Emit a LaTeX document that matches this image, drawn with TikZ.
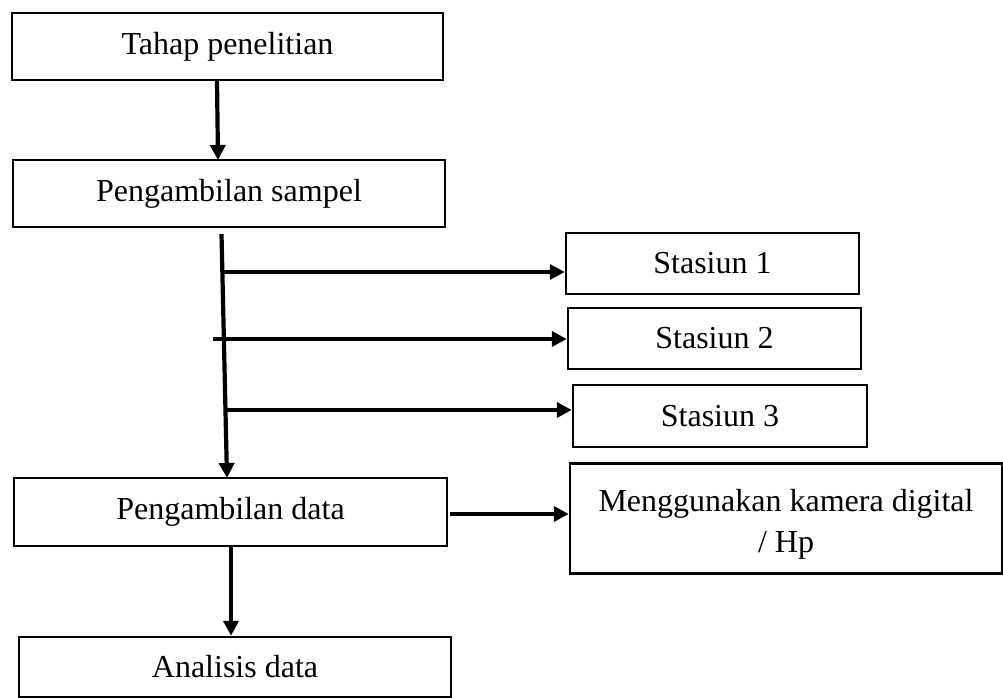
\documentclass[tikz,border=0pt]{standalone}
\usepackage{fontspec}
\setmainfont{Liberation Serif}
\usetikzlibrary{arrows.meta}
\begin{document}
\begin{tikzpicture}[x=1pt,y=-1pt,
  box/.style={draw=black, line width=2.5pt, fill=white, inner sep=0pt, anchor=center,
    font=\fontsize{32}{41}\selectfont},
  arr/.style={line width=4.2pt, -{Triangle[length=15pt,width=15pt]}}]
\useasboundingbox (0,0) rectangle (1003,698);
\fill[white] (0,0) rectangle (1003,698);

\node[box, minimum width=431pt, minimum height=67pt] (b1) at (227.5,46.5) {Tahap penelitian};
\node[box, minimum width=432pt, minimum height=67pt] (b2) at (229,193.5) {Pengambilan sampel};
\node[box, minimum width=293pt, minimum height=61pt] (s1) at (712.5,263.5) {Stasiun 1};
\node[box, minimum width=293pt, minimum height=61pt] (s2) at (714.5,338.5) {Stasiun 2};
\node[box, minimum width=294pt, minimum height=62pt] (s3) at (720,416) {Stasiun 3};
\node[box, minimum width=433pt, minimum height=68pt] (b4) at (230.5,512) {Pengambilan data};
\node[box, minimum width=432pt, minimum height=110pt, align=center] (mk) at (786,518.5)
  {\rule{0pt}{33pt}Menggunakan kamera digital\\ / Hp};
\node[box, minimum width=432pt, minimum height=60pt] (b5) at (235,667) {Analisis data};

\coordinate (a1s) at (217,80);
\coordinate (a1e) at (218,160);
\draw[arr] (a1s) -- (a1e);

\coordinate (vtop) at (221.5,234);
\coordinate (vbot) at (227,478);
\draw[arr] (vtop) -- (vbot);

\coordinate (h1) at (222,272);
\coordinate (h2) at (213,339);
\coordinate (h3) at (227,410);
\draw[arr] (h1) -- (h1 -| s1.west);
\draw[arr] (h2) -- (h2 -| s2.west);
\draw[arr] (h3) -- (h3 -| s3.west);

\coordinate (m1) at (450,514);
\draw[arr] (m1) -- (m1 -| mk.west);

\coordinate (d1) at (231,546);
\draw[arr] (d1) -- (d1 |- b5.north);
\end{tikzpicture}
\end{document}
